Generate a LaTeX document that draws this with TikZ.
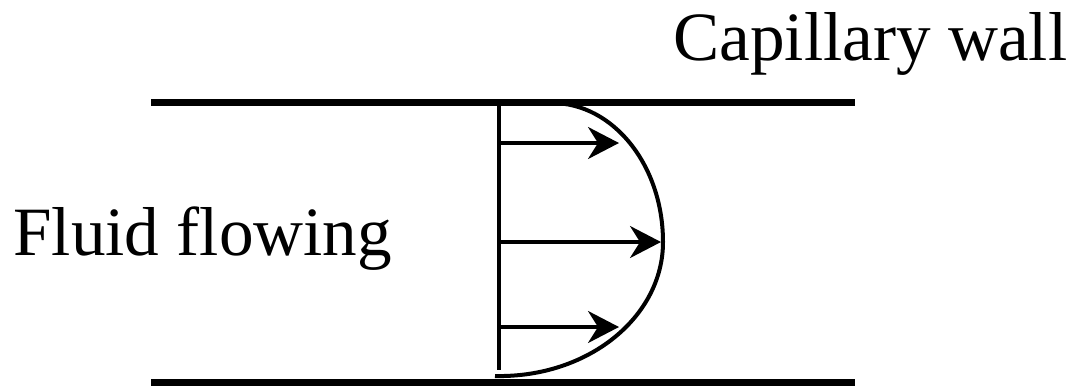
\documentclass[tikz,border=0pt]{standalone}
\usepackage{fontspec}
\setmainfont{Liberation Serif}
\usetikzlibrary{arrows.meta}

\begin{document}
\begin{tikzpicture}[x=0.5pt,y=-0.5pt,
  wall/.style={line width=3.5pt},
  prof/.style={line width=2pt},
  flow/.style={line width=1.7pt,-{Stealth[length=15.5pt,width=16pt,inset=5pt]}},
  lbl/.style={inner sep=0pt,anchor=base west,font=\fontsize{34.6}{40}\selectfont}]
\useasboundingbox (0,0) rectangle (1077,387);
\draw[wall] (151,102) -- (855,102);
\draw[wall] (151,382) -- (855,382);
\node[lbl] (capwall) at (673,60) {Capillary wall};
\node[lbl] (fluid) at (13,255) {Fluid flowing};
\coordinate (ptop) at (552,103);
\coordinate (pmid) at (663,242);
\coordinate (pbot) at (495,376);
\coordinate (base top) at (499,103);
\coordinate (base bot) at (499,370);
\draw[prof] (base top) -- (base bot);
\draw[prof] (ptop) .. controls (613,103) and (663,165) .. (pmid)
  .. controls (663,317) and (588,378) .. (pbot);
\coordinate (s1) at (501,143); \coordinate (e1) at (619,143);
\coordinate (s2) at (501,242); \coordinate (e2) at (661,242);
\coordinate (s3) at (501,327); \coordinate (e3) at (619,327);
\draw[flow] (s1) -- (e1);
\draw[flow] (s2) -- (e2);
\draw[flow] (s3) -- (e3);
\end{tikzpicture}
\end{document}
